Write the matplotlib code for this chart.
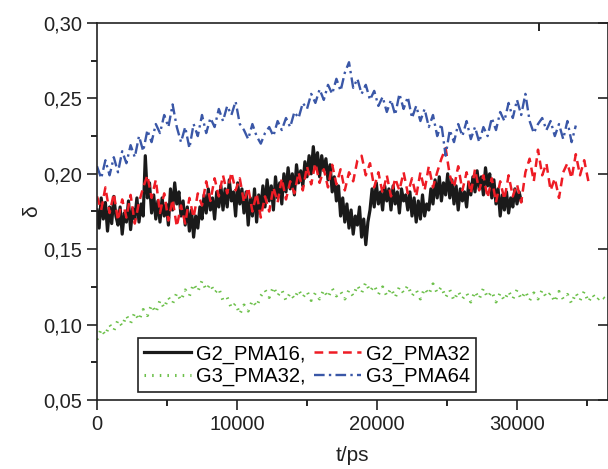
import numpy as np
import matplotlib
matplotlib.use('Agg')
import matplotlib.pyplot as plt
from matplotlib.ticker import MultipleLocator, FuncFormatter

plt.rcParams['font.family'] = ['Liberation Sans', 'DejaVu Sans']

# sampling step (ps) of each series
step_g2_16 = 150
step_g2_32 = 300
step_g3_64 = 300
step_g3_32 = 300

g2_pma16 = [
    0.176, 0.164, 0.184, 0.170, 0.181, 0.162, 0.178, 0.167, 0.185, 0.172,
    0.166, 0.178, 0.160, 0.174, 0.168, 0.182, 0.163, 0.177, 0.170, 0.184,
    0.168, 0.180, 0.172, 0.212, 0.184, 0.194, 0.174, 0.186, 0.170, 0.182,
    0.168, 0.184, 0.172, 0.180, 0.166, 0.190, 0.176, 0.194, 0.180, 0.188,
    0.172, 0.182, 0.166, 0.178, 0.162, 0.176, 0.158, 0.172, 0.164, 0.178,
    0.170, 0.186, 0.174, 0.190, 0.176, 0.184, 0.170, 0.188, 0.178, 0.192,
    0.176, 0.190, 0.178, 0.196, 0.182, 0.188, 0.172, 0.194, 0.180, 0.190,
    0.174, 0.188, 0.166, 0.184, 0.172, 0.190, 0.168, 0.186, 0.176, 0.192,
    0.178, 0.196, 0.182, 0.192, 0.176, 0.198, 0.184, 0.194, 0.180, 0.200,
    0.188, 0.204, 0.190, 0.200, 0.186, 0.206, 0.194, 0.202, 0.192, 0.208,
    0.198, 0.212, 0.200, 0.218, 0.204, 0.214, 0.198, 0.212, 0.202, 0.210,
    0.196, 0.206, 0.188, 0.198, 0.182, 0.192, 0.172, 0.184, 0.168, 0.180,
    0.164, 0.176, 0.160, 0.172, 0.166, 0.178, 0.158, 0.170, 0.153, 0.168,
    0.176, 0.190, 0.178, 0.194, 0.180, 0.188, 0.176, 0.192, 0.182, 0.190,
    0.176, 0.192, 0.180, 0.188, 0.174, 0.190, 0.182, 0.186, 0.176, 0.188,
    0.172, 0.184, 0.168, 0.182, 0.170, 0.186, 0.172, 0.180, 0.176, 0.190,
    0.180, 0.196, 0.184, 0.198, 0.182, 0.194, 0.186, 0.200, 0.184, 0.196,
    0.180, 0.192, 0.176, 0.190, 0.182, 0.188, 0.178, 0.194, 0.186, 0.198,
    0.188, 0.202, 0.190, 0.198, 0.186, 0.204, 0.192, 0.200, 0.184, 0.196,
    0.180, 0.190, 0.172, 0.186, 0.176, 0.188, 0.174, 0.184, 0.178, 0.190,
    0.180, 0.188, 0.182,
]

g2_pma32 = [
    0.185, 0.176, 0.191, 0.174, 0.187, 0.169, 0.183, 0.171, 0.186, 0.167,
    0.181, 0.191, 0.199, 0.184, 0.196, 0.174, 0.187, 0.169, 0.183, 0.165,
    0.179, 0.167, 0.184, 0.171, 0.187, 0.179, 0.195, 0.182, 0.197, 0.185,
    0.199, 0.187, 0.201, 0.189, 0.197, 0.181, 0.191, 0.175, 0.187, 0.171,
    0.185, 0.175, 0.191, 0.181, 0.197, 0.183, 0.195, 0.187, 0.201, 0.189,
    0.205, 0.193, 0.207, 0.194, 0.203, 0.191, 0.206, 0.193, 0.203, 0.189,
    0.201, 0.195, 0.209, 0.212, 0.199, 0.207, 0.191, 0.201, 0.187, 0.199,
    0.185, 0.197, 0.189, 0.201, 0.187, 0.197, 0.185, 0.201, 0.189, 0.205,
    0.191, 0.201, 0.210, 0.217, 0.199, 0.191, 0.205, 0.189, 0.201, 0.187,
    0.203, 0.189, 0.199, 0.184, 0.197, 0.181, 0.195, 0.183, 0.199, 0.185,
    0.193, 0.181, 0.201, 0.210, 0.195, 0.216, 0.199, 0.207, 0.189, 0.197,
    0.184, 0.201, 0.207, 0.197, 0.213, 0.199, 0.209, 0.195, 0.194,
]

g3_pma64 = [
    0.205, 0.197, 0.209, 0.199, 0.211, 0.201, 0.215, 0.207, 0.219, 0.211,
    0.225, 0.215, 0.229, 0.221, 0.233, 0.227, 0.239, 0.231, 0.246, 0.231,
    0.221, 0.231, 0.217, 0.233, 0.225, 0.239, 0.227, 0.237, 0.231, 0.243,
    0.235, 0.245, 0.239, 0.248, 0.233, 0.229, 0.223, 0.233, 0.225, 0.220,
    0.227, 0.231, 0.225, 0.235, 0.229, 0.237, 0.231, 0.241, 0.237, 0.247,
    0.243, 0.253, 0.247, 0.256, 0.249, 0.259, 0.253, 0.263, 0.255, 0.267,
    0.274, 0.257, 0.263, 0.253, 0.259, 0.249, 0.255, 0.245, 0.251, 0.241,
    0.249, 0.239, 0.253, 0.243, 0.251, 0.237, 0.245, 0.235, 0.243, 0.231,
    0.239, 0.225, 0.233, 0.212, 0.229, 0.221, 0.233, 0.225, 0.235, 0.223,
    0.231, 0.221, 0.231, 0.225, 0.237, 0.229, 0.241, 0.235, 0.247, 0.237,
    0.249, 0.239, 0.253, 0.235, 0.227, 0.233, 0.237, 0.229, 0.235, 0.225,
    0.233, 0.223, 0.235, 0.221, 0.232,
]

g3_pma32 = [
    0.090, 0.097, 0.093, 0.100, 0.096, 0.103, 0.099, 0.106, 0.101, 0.108,
    0.103, 0.110, 0.106, 0.113, 0.108, 0.116, 0.111, 0.118, 0.114, 0.121,
    0.116, 0.123, 0.119, 0.127, 0.122, 0.129, 0.123, 0.127, 0.121, 0.124,
    0.116, 0.118, 0.111, 0.114, 0.107, 0.113, 0.109, 0.116, 0.112, 0.119,
    0.123, 0.118, 0.125, 0.119, 0.123, 0.116, 0.121, 0.117, 0.123, 0.118,
    0.122, 0.116, 0.121, 0.117, 0.123, 0.118, 0.124, 0.119, 0.122, 0.117,
    0.123, 0.119, 0.126, 0.121, 0.128, 0.122, 0.126, 0.120, 0.125, 0.119,
    0.124, 0.118, 0.125, 0.121, 0.126, 0.119, 0.123, 0.117, 0.124, 0.120,
    0.127, 0.121, 0.125, 0.118, 0.123, 0.116, 0.122, 0.117, 0.121, 0.115,
    0.122, 0.117, 0.124, 0.118, 0.122, 0.115, 0.121, 0.116, 0.122, 0.117,
    0.123, 0.117, 0.122, 0.116, 0.121, 0.117, 0.123, 0.118, 0.121, 0.115,
    0.122, 0.117, 0.120, 0.114, 0.121, 0.116, 0.122, 0.115, 0.120, 0.116,
    0.119, 0.117,
]

def times(vals, step):
    return np.arange(len(vals)) * step

fig = plt.figure(figsize=(6.08, 4.69), dpi=100)
ax = fig.add_axes([97 / 608, 1 - 400 / 469, 511 / 608, 377 / 469])

l1, = ax.plot(times(g2_pma16, step_g2_16), g2_pma16, color='#1a1a1a', lw=2.3,
              label='G2_PMA16,')
l2, = ax.plot(times(g2_pma32, step_g2_32), g2_pma32, color='#ee1c25', lw=1.8,
              ls=(0, (3.5, 2.2)), label='G2_PMA32')
l3, = ax.plot(times(g3_pma32, step_g3_32), g3_pma32, color='#6cc04a', lw=2.2,
              ls=(0, (0.5, 2.0)), label='G3_PMA32,')
l4, = ax.plot(times(g3_pma64, step_g3_64), g3_pma64, color='#3a57a7', lw=1.7,
              ls=(0, (4.5, 1.8, 1, 1.8)), label='G3_PMA64')

ax.set_xlim(0, 36500)
ax.set_ylim(0.05, 0.30)

ax.xaxis.set_major_locator(MultipleLocator(10000))
ax.xaxis.set_minor_locator(MultipleLocator(5000))
ax.yaxis.set_major_locator(MultipleLocator(0.05))
ax.yaxis.set_minor_locator(MultipleLocator(0.025))
ax.yaxis.set_major_formatter(FuncFormatter(lambda v, p: f'{v:.2f}'.replace('.', ',')))

ax.tick_params(axis='both', which='major', direction='out', length=7, width=1.2,
               labelsize=14.5, colors='#222222')
ax.tick_params(axis='both', which='minor', direction='out', length=4, width=1.2)
ax.tick_params(axis='y', which='major', right=True, length=7)
for t in ax.yaxis.get_majorticklines()[1::2]:
    t.set_marker(0)
ax.tick_params(axis='y', which='minor', right=False)

# single tick visible on the top spine
ax.tick_params(axis='x', which='major', top=False)
top = ax.secondary_xaxis('top')
top.set_xticks([31600])
top.tick_params(direction='in', length=6, width=1.2, labeltop=False)
top.spines['top'].set_visible(False)

for s in ax.spines.values():
    s.set_linewidth(1.2)
    s.set_color('#222222')

ax.set_xlabel('t/ps', fontsize=15, labelpad=9, color='#222222')
ax.set_ylabel('δ', fontsize=15, labelpad=2, color='#222222')

ax.legend(handles=[l1, l3, l2, l4], ncol=2, loc='lower left',
          bbox_to_anchor=(0.08, 0.021), fontsize=14.5, frameon=True, fancybox=False,
          edgecolor='#222222', framealpha=1, borderpad=0.3, labelspacing=0.15,
          handlelength=2.35, handletextpad=0.25, columnspacing=0.4, borderaxespad=0)
ax.get_legend().get_frame().set_linewidth(1.2)

fig.savefig('out.png', dpi=100)
